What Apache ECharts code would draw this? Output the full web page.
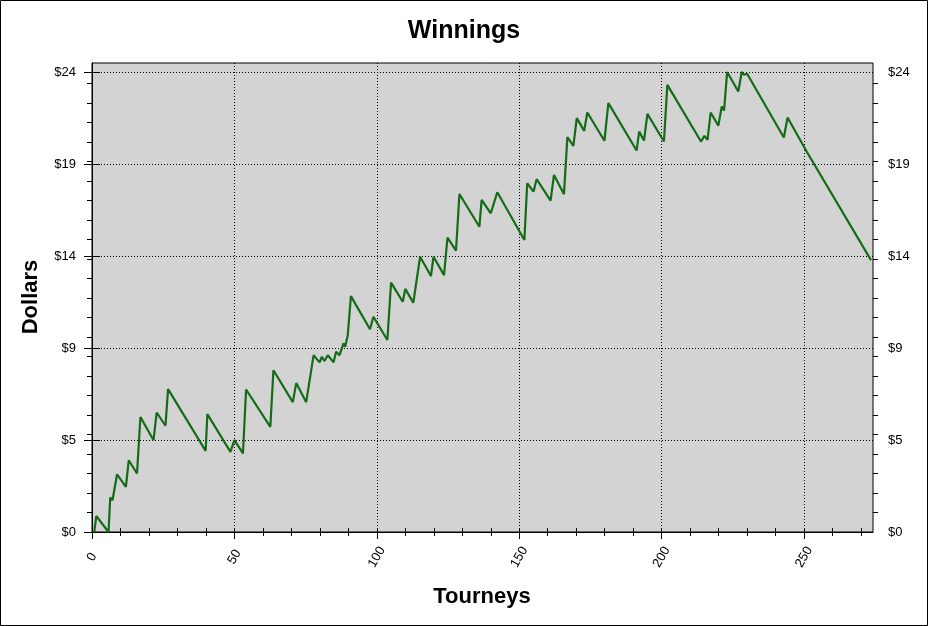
<!DOCTYPE html>
<html>
<head>
<meta charset="utf-8">
<script src="https://cdn.jsdelivr.net/npm/echarts@6/dist/echarts.min.js"></script>
<style>
html,body{margin:0;padding:0;background:#fff;}
#chart{width:928px;height:626px;}
</style>
</head>
<body>
<div id="chart"></div>
<script>
// Tourney number at each vertex of the winnings line
var tourneys = [0.8, 1.5, 5.8, 6.4, 7.2, 8.8, 11.9, 12.9, 15.8, 17.0, 21.6, 22.7, 25.8, 26.7, 39.9, 40.5, 48.6, 50.0, 53.0, 54.1,
  62.6, 63.7, 70.5, 71.7, 75.2, 77.8, 79.9, 80.7, 81.6, 82.8, 84.8, 85.7, 86.9, 88.3, 88.9, 89.8, 90.9, 97.6, 98.8, 103.7,
  105.0, 109.1, 110.0, 112.8, 115.2, 119.0, 119.9, 123.6, 124.8, 127.8, 129.0, 136.0, 136.8, 140.0, 142.3, 151.8, 152.8, 155.0, 156.1, 161.0,
  162.2, 165.7, 166.9, 169.0, 170.2, 172.8, 173.9, 179.9, 181.3, 191.2, 192.1, 193.8, 195.0, 200.8, 202.0, 213.8, 215.0, 216.1, 217.2, 219.9,
  221.1, 221.9, 223.0, 226.9, 228.1, 228.9, 230.0, 242.9, 244.2, 250.9, 273.5];
// Cumulative winnings (dollars) at each vertex
var dollars = [0.0, 0.82, 0.0, 1.77, 1.63, 2.96, 2.31, 3.68, 3.0, 5.9, 4.71, 6.13, 5.45, 7.33, 4.16, 6.05, 4.11, 4.71, 4.03, 7.31,
  5.39, 8.3, 6.66, 7.64, 6.66, 9.07, 8.70, 8.99, 8.77, 9.07, 8.70, 9.25, 9.07, 9.68, 9.5, 10.1, 12.1, 10.4, 11.04, 9.85,
  12.79, 11.81, 12.47, 11.76, 14.12, 13.13, 14.12, 13.18, 15.1, 14.43, 17.34, 15.66, 17.04, 16.35, 17.43, 14.98, 17.89, 17.46, 18.1, 17.0,
  18.32, 17.33, 20.26, 19.81, 21.23, 20.58, 21.52, 20.07, 22.0, 19.57, 20.54, 20.08, 21.45, 20.03, 22.94, 20.03, 20.32, 20.12, 21.52, 20.85,
  21.83, 21.62, 23.6, 22.6, 23.6, 23.46, 23.51, 20.24, 21.26, 19.52, 13.95];
// Y axis major tick values (labelled rounded to whole dollars) and minor ticks
var yMajorTicks = [0, 4.72, 9.44, 14.16, 18.88, 23.6];
var yMinorTicks = [1,2,3,4,5,6,7,8,9,10,11,12,13,14,15,16,17,18,19,20,21,22,23];
var xMajorTicks = [0, 50, 100, 150, 200, 250];
var xMinorTicks = [10,20,30,40,60,70,80,90,110,120,130,140,160,170,180,190,210,220,230,240,260,270];
var titleText = 'Winnings';
var xName = 'Tourneys';
var yName = 'Dollars';

var FONT = "'Liberation Sans', Arial, sans-serif";
var X_MAX = 274.2, Y_MAX = 24.06;
var data = tourneys.map(function (t, i) { return [t, dollars[i]]; });
var dotted = { show: true, lineStyle: { color: '#000', width: 1, type: [1, 2] } };
function yLabel(v) { return '$' + Math.round(v); }

var chart = echarts.init(document.getElementById('chart'), null, { renderer: 'canvas' });
chart.setOption({
  animation: false,
  backgroundColor: '#fff',
  grid: { left: 92, right: 55, top: 63, bottom: 94, show: true, backgroundColor: '#d3d3d3', borderColor: '#000', borderWidth: 1 },
  xAxis: [
    { type: 'value', position: 'bottom', min: 0, max: X_MAX,
      axisLine: { show: true, lineStyle: { color: '#000', width: 1 } },
      axisTick: { show: true, customValues: xMajorTicks, length: 7, lineStyle: { color: '#000' } },
      axisLabel: { customValues: xMajorTicks, rotate: 60, margin: 25, align: 'center', verticalAlign: 'middle', fontSize: 13, color: '#000', fontFamily: FONT },
      splitLine: dotted },
    { type: 'value', position: 'bottom', min: 0, max: X_MAX,
      axisLine: { show: false },
      axisTick: { show: true, inside: true, customValues: xMinorTicks.concat(xMajorTicks), length: 4, lineStyle: { color: '#000' } },
      axisLabel: { show: false }, splitLine: { show: false } },
    { type: 'value', position: 'top', min: 0, max: X_MAX,
      axisLine: { show: false },
      axisTick: { show: true, inside: true, customValues: xMinorTicks.concat(xMajorTicks), length: 4, lineStyle: { color: '#000' } },
      axisLabel: { show: false }, splitLine: { show: false } }
  ],
  yAxis: [
    { type: 'value', position: 'left', min: 0, max: Y_MAX,
      axisLine: { show: true, lineStyle: { color: '#000', width: 1 } },
      axisTick: { show: true, customValues: yMajorTicks, length: 8, lineStyle: { color: '#000' } },
      axisLabel: { customValues: yMajorTicks, formatter: yLabel, margin: 16, fontSize: 13, color: '#000', fontFamily: FONT },
      splitLine: dotted },
    { type: 'value', position: 'right', min: 0, max: Y_MAX,
      axisLine: { show: true, lineStyle: { color: '#000', width: 1 } },
      axisTick: { show: true, customValues: yMajorTicks, length: 8, lineStyle: { color: '#000' } },
      axisLabel: { customValues: yMajorTicks, formatter: yLabel, margin: 15, fontSize: 13, color: '#000', fontFamily: FONT },
      splitLine: { show: false } },
    { type: 'value', position: 'left', min: 0, max: Y_MAX,
      axisLine: { show: false },
      axisTick: { show: true, customValues: yMinorTicks, length: 5, lineStyle: { color: '#000' } },
      axisLabel: { show: false }, splitLine: { show: false } },
    { type: 'value', position: 'right', min: 0, max: Y_MAX,
      axisLine: { show: false },
      axisTick: { show: true, customValues: yMinorTicks, length: 5, lineStyle: { color: '#000' } },
      axisLabel: { show: false }, splitLine: { show: false } }
  ],
  series: [{
    type: 'line', xAxisIndex: 0, yAxisIndex: 0, data: data,
    showSymbol: false, symbol: 'none',
    lineStyle: { color: '#146c17', width: 2.2 }
  }],
  graphic: [
    { type: 'rect', shape: { x: 0.5, y: 0.5, width: 927, height: 625 }, style: { fill: 'none', stroke: '#000', lineWidth: 1 }, silent: true, z: 100 },
    { type: 'text', x: 464, y: 31, style: { text: titleText, font: 'bold 25px ' + FONT, fill: '#000', textAlign: 'center', textVerticalAlign: 'middle' } },
    { type: 'text', x: 482, y: 597, style: { text: xName, font: 'bold 22px ' + FONT, fill: '#000', textAlign: 'center', textVerticalAlign: 'middle' } },
    { type: 'text', x: 31, y: 297, rotation: Math.PI / 2, style: { text: yName, font: 'bold 22px ' + FONT, fill: '#000', textAlign: 'center', textVerticalAlign: 'middle' } }
  ]
});
</script>
</body>
</html>
